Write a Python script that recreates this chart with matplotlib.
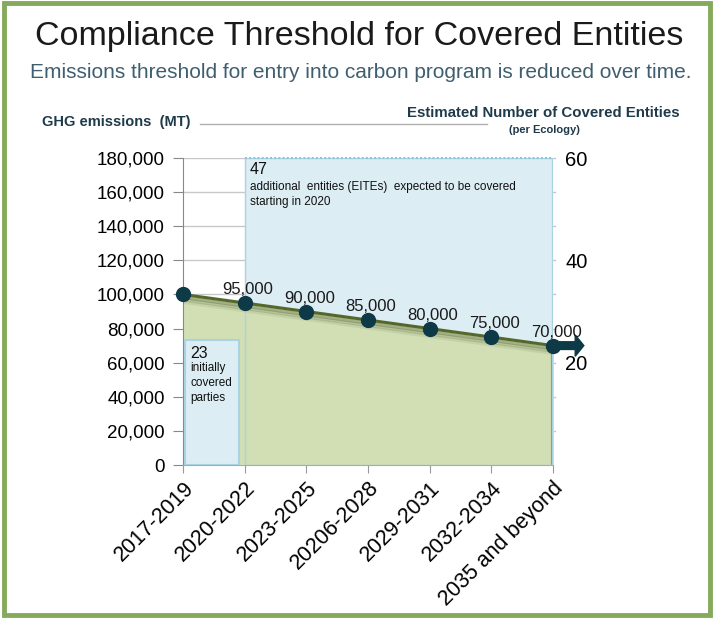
import matplotlib
matplotlib.use("Agg")
import matplotlib.pyplot as plt
from matplotlib.patches import Rectangle, FancyArrow
import numpy as np

categories = ["2017-2019", "2020-2022", "2023-2025", "20206-2028", "2029-2031", "2032-2034", "2035 and beyond"]
thresholds = [100000, 95000, 90000, 85000, 80000, 75000, 70000]
value_labels = ["", "95,000", "90,000", "85,000", "80,000", "75,000", "70,000"]
left_ticks = [0, 20000, 40000, 60000, 80000, 100000, 120000, 140000, 160000, 180000]
right_ticks = [20, 40, 60]
initial_entities = 23
additional_entities = 47

plt.rcParams['font.family'] = ['Liberation Sans', 'DejaVu Sans']

W, H = 714, 620
fig = plt.figure(figsize=(W/100, H/100), dpi=100)
fig.patch.set_facecolor('white')

# outer green frame
fig.add_artist(Rectangle((4/W, 5/H), 706/W, 612/H, transform=fig.transFigure,
                         fill=False, edgecolor='#86aa5c', linewidth=3.5))

fig.text(359/W, 1-36/H, "Compliance Threshold for Covered Entities", ha='center', va='center',
         fontsize=24.5, color='#1a1a1a')
fig.text(361/W, 1-73/H, "Emissions threshold for entry into carbon program is reduced over time.",
         ha='center', va='center', fontsize=15, color='#3f5f70')

ax = fig.add_axes([183/W, 1-465/H, (553-183)/W, (465-158)/H])
x = np.arange(len(categories))
ax.set_xlim(0, len(categories)-1)
ax.set_ylim(0, 180000)

ax.set_yticks(left_ticks)
ax.set_yticklabels([f"{v:,}" for v in left_ticks], fontsize=13.5)
ax.yaxis.grid(True, color='#c8c8c8', linewidth=1)
ax.set_axisbelow(True)
ax.tick_params(axis='y', length=7, color='#888888', pad=6)
ax.set_xticks(x)
ax.set_xticklabels(categories, rotation=45, ha='right', rotation_mode='anchor', fontsize=15.5)
ax.tick_params(axis='x', length=6, color='#999999', pad=3)
for s in ['top', 'right']:
    ax.spines[s].set_visible(False)
ax.spines['left'].set_color('#888888')
ax.spines['bottom'].set_color('#aaaaaa')

# right axis
ax2 = ax.twinx()
ax2.set_ylim(0, 60)
ax2.set_yticks(right_ticks)
ax2.set_yticklabels([str(t) for t in right_ticks], fontsize=14.5)
ax2.tick_params(axis='y', length=0, pad=9)
for s in ax2.spines.values():
    s.set_visible(False)

# extend gridlines slightly past right edge
for v in left_ticks[1:]:
    ax.plot([6, 6.03], [v, v], color='#c8c8c8', lw=1, clip_on=False, zorder=0.5)

# box 2 (additional entities) fill behind area
ax.add_patch(Rectangle((1, 0), 4.99, 60*3000, facecolor='#dcedf4', edgecolor='none', zorder=1))
# green fill
ax.fill_between(x, thresholds, 0, color='#d2dfb5', zorder=2)
# shadow band under line
for off, a in [(1800, 0.35), (3200, 0.2), (4500, 0.1)]:
    ax.plot(x, np.array(thresholds) - off, color='#4a5a28', lw=2.5, alpha=a, zorder=3,
            solid_capstyle='butt')
ax.plot(x, thresholds, color='#55682c', lw=2.2, zorder=3)
# right edge shadow
ax.plot([6, 6], [0, thresholds[-1]], color='#6b7550', lw=3, alpha=0.7, zorder=3)
# box 2 outline
ax.add_patch(Rectangle((1, 0), 4.99, 60*3000, facecolor='none', edgecolor='#a9d3e3', lw=1, zorder=3.5))
ax.plot([1, 5.99], [180000, 180000], color='#8fc4d8', lw=1.5, ls=(0, (1, 1)), zorder=3.6, clip_on=False)
# box 1 (initial entities)
ax.add_patch(Rectangle((0.03, 0), 0.88, 73000, facecolor='#dcedf4', edgecolor='#a9d3e3', lw=1.5, zorder=4))

ax.text(0.12, 65500, str(initial_entities), fontsize=11.5, va='center', ha='left', zorder=5, color='#111111')
ax.text(0.12, 48000, "initially\ncovered\nparties", fontsize=8.5, va='center', ha='left', zorder=5,
        linespacing=1.3, color='#111111')
ax.text(1.08, 173000, str(additional_entities), fontsize=11.5, va='center', ha='left', zorder=5, color='#111111')
ax.text(1.08, 158500, "additional  entities (EITEs)  expected to be covered\nstarting in 2020", fontsize=8.5,
        va='center', ha='left', zorder=5, linespacing=1.3, color='#111111')

# points and arrow
ax.add_patch(FancyArrow(6, thresholds[-1], 0.36, 0, width=4500, head_width=12500, head_length=0.14,
                        length_includes_head=False, color='#0e3a48', zorder=6, clip_on=False))
ax.plot(x, thresholds, 'o', color='#0e3a48', markersize=10, zorder=7, clip_on=False)
for xi, yi, lab in zip(x, thresholds, value_labels):
    if lab:
        ax.text(xi + 0.05, yi + 3500, lab, ha='center', va='bottom', fontsize=12, zorder=8, color='#1a1a1a')

# header labels
fig.text(42/W, 1-122/H, "GHG emissions  (MT)", ha='left', va='center', fontsize=10.5, weight='bold',
         color='#1f3a4a')
fig.add_artist(plt.Line2D([200/W, 487/W], [1-124/H, 1-124/H], transform=fig.transFigure,
                          color='#b0b0b0', lw=1))
fig.text(680/W, 1-113/H, "Estimated Number of Covered Entities", ha='right', va='center', fontsize=10.8,
         weight='bold', color='#1f3a4a')
fig.text(580/W, 1-130/H, "(per Ecology)", ha='right', va='center', fontsize=8, weight='bold',
         color='#1f3a4a')

fig.savefig("out.png", dpi=100)
